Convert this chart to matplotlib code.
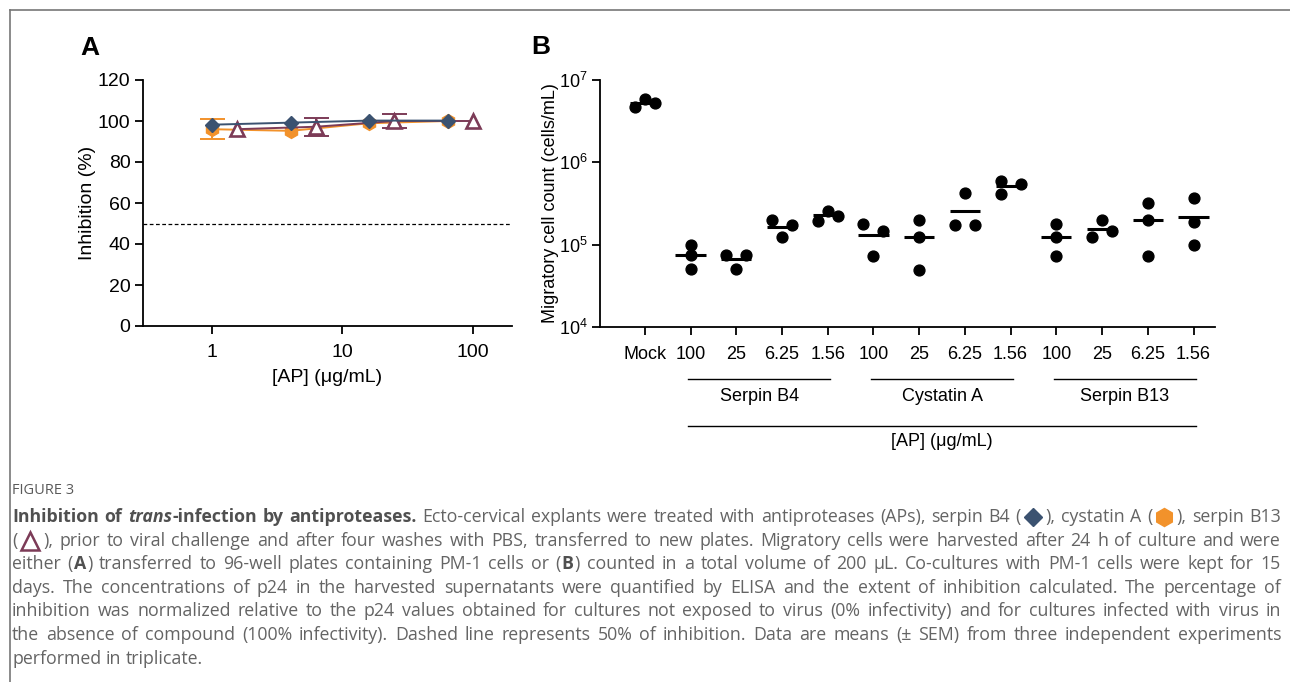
import matplotlib
matplotlib.use("Agg")
import matplotlib.pyplot as plt
import matplotlib.transforms as mtransforms
from matplotlib.lines import Line2D
from matplotlib.ticker import NullLocator, FixedLocator
import numpy as np

plt.rcParams["font.family"] = ["Liberation Sans", "DejaVu Sans"]
plt.rcParams["mathtext.fontset"] = "custom"
plt.rcParams["mathtext.rm"] = "Liberation Sans"
plt.rcParams["mathtext.default"] = "regular"

# ---- panel A data: inhibition (%) vs AP concentration (ug/mL)
conc_b4 = [1, 4, 16, 64]
inh_b4 = [98.2, 99.2, 100.2, 100.2]
err_b4 = [0, 0, 0, 0]
conc_ca = [1, 4, 16, 64]
inh_ca = [96.0, 95.2, 98.9, 100.0]
err_ca = [5.0, 0, 0, 0]
conc_b13 = [1.56, 6.25, 25, 100]
inh_b13 = [96.0, 97.2, 100.0, 100.0]
err_b13 = [0, 4.3, 3.6, 0]

# ---- panel B data: migratory cell count (cells/mL)
group_ticks = ["Mock", "100", "25", "6.25", "1.56", "100", "25", "6.25", "1.56",
               "100", "25", "6.25", "1.56"]
cell_counts = [
    [4.7e6, 5.8e6, 5.3e6],
    [1.0e5, 7.5e4, 5.0e4],
    [7.5e4, 7.5e4, 5.0e4],
    [2.0e5, 1.75e5, 1.23e5],
    [1.96e5, 2.58e5, 2.26e5],
    [1.77e5, 1.48e5, 7.3e4],
    [2.0e5, 1.23e5, 4.9e4],
    [4.3e5, 1.74e5, 1.74e5],
    [5.9e5, 4.15e5, 5.5e5],
    [1.77e5, 1.23e5, 7.3e4],
    [2.0e5, 1.23e5, 1.48e5],
    [3.25e5, 2.0e5, 7.3e4],
    [3.67e5, 1.9e5, 1.0e5],
]
# horizontal side of each dot inside its column (-1 left, 0 centre, 1 right)
dot_side = [
    [-1, 0, 1], [0, 0, 0], [-1, 1, 0], [-1, 1, 0], [-1, 0, 1], [-1, 1, 0],
    [0, 0, 0], [0, -1, 1], [-1, -1, 1], [0, 0, 0], [0, -1, 1], [0, 0, 0], [0, 0, 0],
]
bracket_names = ["Serpin B4", "Cystatin A", "Serpin B13"]
bracket_spans = [(1, 4), (5, 8), (9, 12)]

c_b4 = "#3b5270"
c_ca = "#f2922b"
c_b13 = "#7c3b57"
cap_grey = "#646464"

W, H = 1290, 682
fig = plt.figure(figsize=(W / 100, H / 100), dpi=100)

def fx(px):
    return px / W

def fy(py):
    return 1 - py / H

# frame lines of the figure box
fig.add_artist(Line2D([fx(9.5), fx(9.5)], [fy(9.5), 0], transform=fig.transFigure,
                      color="#777777", lw=1.2))
fig.add_artist(Line2D([fx(9.5), 1], [fy(9.5), fy(9.5)], transform=fig.transFigure,
                      color="#777777", lw=1.2))

# ---------------- panel A
ax_a = fig.add_axes([fx(143), fy(326), (512 - 143) / W, (326 - 80) / H])
ax_a.set_xscale("log")
ax_a.set_xlim(0.296, 199)
ax_a.set_ylim(0, 120)
ax_a.axhline(50, color="black", lw=0.9, ls=(0, (3, 2)))
series = [
    (conc_ca, inh_ca, err_ca, c_ca, dict(marker="h", ms=10), 3),
    (conc_b13, inh_b13, err_b13, c_b13,
     dict(marker="^", ms=10, mfc="white", mec=c_b13, mew=1.9), 4),
    (conc_b4, inh_b4, err_b4, c_b4, dict(marker="D", ms=7), 5),
]
for xs, ys, es, col, mk, z in series:
    sel = [i for i, e in enumerate(es) if e > 0]
    if sel:
        ax_a.errorbar([xs[i] for i in sel], [ys[i] for i in sel],
                      yerr=[es[i] for i in sel], fmt="none", ecolor=col,
                      elinewidth=1.4, capsize=9, capthick=1.4, zorder=z - 0.5)
    ax_a.plot(xs, ys, color=col, lw=1.4, zorder=z, **mk)
ax_a.set_xticks([1, 10, 100])
ax_a.set_xticklabels(["1", "10", "100"])
ax_a.xaxis.set_minor_locator(NullLocator())
ax_a.set_yticks(range(0, 121, 20))
for s in ["top", "right"]:
    ax_a.spines[s].set_visible(False)
for s in ["left", "bottom"]:
    ax_a.spines[s].set_linewidth(1.3)
ax_a.tick_params(axis="both", labelsize=14, width=1.3, length=6, pad=3)
ax_a.tick_params(axis="x", pad=7)
ax_a.set_xlabel("[AP] (μg/mL)", fontsize=14, labelpad=6)
ax_a.set_ylabel("Inhibition (%)", fontsize=14, labelpad=1)
fig.text(fx(90), fy(48), "A", fontsize=19, fontweight="bold", ha="center", va="center")

# ---------------- panel B
ax_b = fig.add_axes([fx(600), fy(327), (1215 - 600) / W, (327 - 80) / H])
ax_b.set_yscale("log")
ax_b.set_ylim(1e4, 1e7)
ax_b.set_xlim(-0.98, 12.47)
jit = 0.22
for i, (vals, sides) in enumerate(zip(cell_counts, dot_side)):
    xs = [i + s * jit for s in sides]
    ax_b.plot(xs, vals, "o", color="black", ms=7.8, zorder=3)
    ax_b.plot([i - 0.33, i + 0.33], [np.mean(vals)] * 2, color="black", lw=2.2,
              solid_capstyle="butt", zorder=4)
ax_b.set_xticks(range(len(group_ticks)))
ax_b.set_xticklabels(group_ticks)
ax_b.yaxis.set_major_locator(FixedLocator([1e4, 1e5, 1e6, 1e7]))
ax_b.yaxis.set_minor_locator(NullLocator())
for s in ["top", "right"]:
    ax_b.spines[s].set_visible(False)
for s in ["left", "bottom"]:
    ax_b.spines[s].set_linewidth(1.3)
ax_b.tick_params(axis="both", labelsize=13, width=1.3, length=6, pad=3)
ax_b.tick_params(axis="x", pad=8)
ax_b.set_ylabel("Migratory cell count (cells/mL)", fontsize=13, labelpad=0)

tr = mtransforms.blended_transform_factory(ax_b.transData, ax_b.transAxes)
for name, (a, b) in zip(bracket_names, bracket_spans):
    ax_b.plot([a - 0.06, b + 0.06], [-0.21, -0.21], color="black", lw=1.0,
              transform=tr, clip_on=False)
    ax_b.text((a + b) / 2, -0.28, name, fontsize=13, ha="center", va="center",
              transform=tr)
ax_b.plot([bracket_spans[0][0] - 0.06, bracket_spans[-1][1] + 0.06], [-0.40, -0.40],
          color="black", lw=1.0, transform=tr, clip_on=False)
ax_b.text((bracket_spans[0][0] + bracket_spans[-1][1]) / 2, -0.463, "[AP] (μg/mL)",
          fontsize=13, ha="center", va="center", transform=tr)
fig.text(fx(541), fy(47), "B", fontsize=19, fontweight="bold", ha="center", va="center")

# ---------------- caption
cap_font = "Open Sans"
caption_lines = [
    [("Inhibition of ", "b"), ("trans", "bi"), ("-infection by antiproteases.", "b"),
     (" Ecto-cervical explants were treated with antiproteases (APs), serpin B4 (", "r"),
     ("D", "mk"), ("), cystatin A (", "r"), ("h", "mk"), ("), serpin B13", "r")],
    [("(", "r"), ("^", "mk"),
     ("), prior to viral challenge and after four washes with PBS, transferred to new "
      "plates. Migratory cells were harvested after 24 h of culture and were", "r")],
    [("either (", "r"), ("A", "b"),
     (") transferred to 96-well plates containing PM-1 cells or (", "r"), ("B", "b"),
     (") counted in a total volume of 200 µL. Co-cultures with PM-1 cells were kept for 15",
      "r")],
    [("days. The concentrations of p24 in the harvested supernatants were quantified by "
      "ELISA and the extent of inhibition calculated. The percentage of", "r")],
    [("inhibition was normalized relative to the p24 values obtained for cultures not "
      "exposed to virus (0% infectivity) and for cultures infected with virus in", "r")],
    [("the absence of compound (100% infectivity). Dashed line represents 50% of "
      "inhibition. Data are means (± SEM) from three independent experiments", "r")],
    [("performed in triplicate.", "r")],
]
line_base = [522, 546, 569, 593, 616, 640, 664]
marker_style = {
    "D": dict(marker="D", ms=9.5, color=c_b4, mec=c_b4),
    "h": dict(marker="h", ms=13, color=c_ca, mec=c_ca),
    "^": dict(marker="^", ms=13, mfc="white", mec=c_b13, mew=1.8),
}
marker_width = {"D": 22, "h": 22, "^": 24}
renderer = fig.canvas.get_renderer()

def cap_kw(kind, size):
    kw = dict(fontsize=size, family=[cap_font, "DejaVu Sans"], color=cap_grey)
    if kind in ("b", "bi"):
        kw["fontweight"] = "bold"
        kw["color"] = "#505050"
    if kind == "bi":
        kw["style"] = "italic"
    return kw

def piece_width(s, kind, size):
    if kind == "mk":
        return marker_width[s]
    t = fig.text(0, 0, s, **cap_kw(kind, size))
    w = t.get_window_extent(renderer).width
    t.remove()
    return w

def split_words(segs):
    words = [[]]
    for s, kind in segs:
        if kind == "mk":
            words[-1].append((s, kind))
            continue
        parts = s.split(" ")
        for j, part in enumerate(parts):
            if j > 0:
                words.append([])
            if part:
                words[-1].append((part, kind))
    return [w for w in words if w]

def line_layout(words, size):
    widths = [[piece_width(s, k, size) for s, k in w] for w in words]
    total = sum(sum(w) + 1.0 * (len(w) - 1) for w in widths)
    return widths, total

x0, x1 = 12, 1281
all_words = [split_words(segs) for segs in caption_lines]

# pick the caption size so the justified lines keep a normal word spacing
base = 10.0
space_base = piece_width("a a", "r", base) - piece_width("aa", "r", base)
fill = []
for words in all_words[:-1]:
    _, tot = line_layout(words, base)
    fill.append(tot + space_base * (len(words) - 1))
cap_size = base * (x1 - x0) / max(fill) * 0.995
space_w = piece_width("a a", "r", cap_size) - piece_width("aa", "r", cap_size)

fig.text(fx(x0), fy(494), "FIGURE 3", fontsize=10.5, family=[cap_font, "DejaVu Sans"],
         color="#5a5a5a", ha="left", va="baseline")

for li, words in enumerate(all_words):
    widths, total = line_layout(words, cap_size)
    if li < len(all_words) - 1 and len(words) > 1:
        gap = (x1 - x0 - total) / (len(words) - 1)
    else:
        gap = space_w
    yb = line_base[li]
    x = x0
    for w, ws in zip(words, widths):
        for (s, k), pw in zip(w, ws):
            if k == "mk":
                fig.add_artist(Line2D([fx(x + pw / 2)], [fy(yb - 5)],
                                      transform=fig.transFigure, lw=0,
                                      **marker_style[s]))
            else:
                fig.text(fx(x), fy(yb), s, ha="left", va="baseline",
                         **cap_kw(k, cap_size))
            x += pw + 1.0
        x += gap - 1.0

fig.savefig("out.png", dpi=100)
